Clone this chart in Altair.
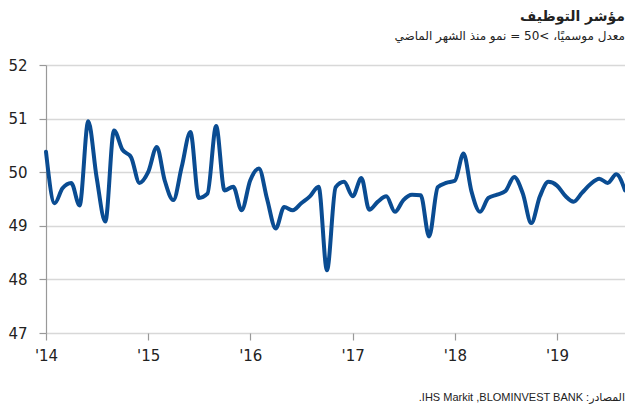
import altair as alt
import pandas as pd

values = [
    50.38, 49.42, 49.70, 49.80, 49.38, 50.95, 49.90, 49.08, 50.78, 50.42, 50.28, 49.80,
    50.00, 50.47, 49.85, 49.48, 50.10, 50.75, 49.52, 49.60, 50.86, 49.66, 49.73, 49.29,
    49.85, 50.07, 49.50, 48.95, 49.35, 49.29, 49.42, 49.55, 49.73, 48.17, 49.72, 49.82,
    49.55, 49.89, 49.30, 49.45, 49.55, 49.26, 49.48, 49.58, 49.57, 48.80, 49.72, 49.80,
    49.84, 50.35, 49.65, 49.26, 49.52, 49.58, 49.65, 49.91, 49.60, 49.05, 49.55, 49.82,
    49.75, 49.55, 49.45, 49.62, 49.78, 49.88, 49.80, 49.96, 49.66,
]
start_month = "2014-01-01"
end_month = "2019-09-01"
year_ticks = ["2014-01-01", "2015-01-01", "2016-01-01", "2017-01-01", "2018-01-01", "2019-01-01"]
y_ticks = [47, 48, 49, 50, 51, 52]

title = "مؤشر التوظيف"
subtitle = "معدل موسميًا، >50 = نمو منذ الشهر الماضي"
source = "المصادر: BLOMINVEST BANK,\u200F IHS Markit."

RLE, PDF = "\u202B", "\u202C"

dates = pd.date_range(start_month, periods=len(values), freq="MS")
df = pd.DataFrame({"date": dates, "value": values})

W, H = 579, 268

line = alt.Chart(df).mark_line(
    color="#0a4c92", strokeWidth=4, interpolate="monotone", strokeJoin="round", strokeCap="round", clip=False
).encode(
    x=alt.X("date:T",
            scale=alt.Scale(domain=[start_month, end_month], nice=False),
            axis=alt.Axis(values=year_ticks, format="'%y", title=None, grid=False, domain=False,
                          tickColor="#999999", tickSize=7, tickWidth=1.2,
                          labelFontSize=15, labelFont="DejaVu Sans", labelColor="#222222",
                          labelPadding=8, labelFlush=False, labelAlign="center")),
    y=alt.Y("value:Q",
            scale=alt.Scale(domain=[47, 52], nice=False, zero=False),
            axis=alt.Axis(values=y_ticks, title=None, grid=True, gridColor="#d8d8d8", gridWidth=1.5,
                          domain=True, domainColor="#999999", domainWidth=1.2,
                          tickColor="#999999", tickSize=7, tickWidth=1.2,
                          labelFontSize=15, labelFont="DejaVu Sans", labelColor="#222222",
                          labelPadding=12)),
)

title_mark = alt.Chart(pd.DataFrame({"t": [title]})).mark_text(
    align="right", baseline="alphabetic", fontSize=14, fontWeight="bold",
    font="DejaVu Sans", color="#222222"
).encode(text="t:N", x=alt.value(W), y=alt.value(-44))

subtitle_mark = alt.Chart(pd.DataFrame({"t": [subtitle]})).mark_text(
    align="right", baseline="alphabetic", fontSize=12,
    font="DejaVu Sans", color="#222222"
).encode(text="t:N", x=alt.value(W), y=alt.value(-25))

source_mark = alt.Chart(pd.DataFrame({"t": [RLE + source + PDF]})).mark_text(
    align="right", baseline="alphabetic", fontSize=11,
    font="Liberation Sans, DejaVu Sans", color="#222222"
).encode(text="t:N", x=alt.value(W), y=alt.value(336))

chart = alt.layer(line, title_mark, subtitle_mark, source_mark).properties(
    width=W, height=H,
    autosize=alt.AutoSizeParams(type="none"),
    padding={"left": 38, "top": 57, "right": 0, "bottom": 71},
).configure_view(stroke=None)

chart.save("out.html", embed_options={"renderer": "svg", "actions": False})
